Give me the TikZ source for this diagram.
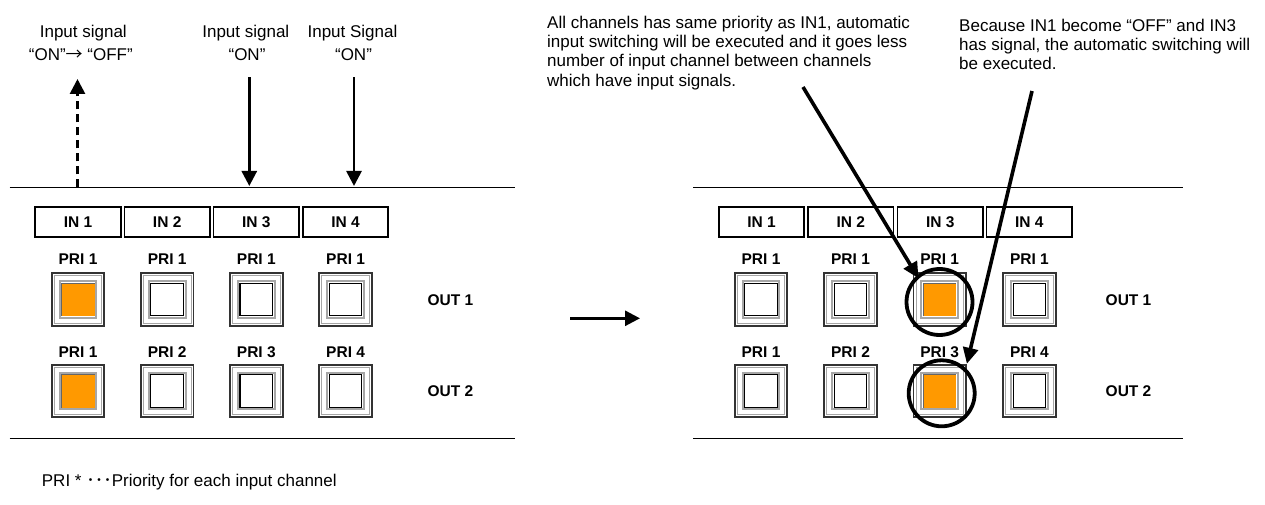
\documentclass[tikz,border=0pt]{standalone}
\usepackage{fontspec}
\setmainfont{Liberation Sans}
\newfontfamily\cjk{Noto Sans CJK JP}
\usetikzlibrary{arrows.meta,calc}
\definecolor{lit}{HTML}{FF9900}
\tikzset{
  lbl/.style={font=\fontsize{17}{19}\selectfont, inner sep=0pt},
  bl/.style={font=\bfseries\fontsize{15.5}{18}\selectfont, inner sep=0pt},
  inbox/.style={draw, line width=1.8pt, minimum width=85.5pt, minimum height=30pt, inner sep=0pt, font=\bfseries\fontsize{15.5}{18}\selectfont},
  btnbox/.style={draw=black!80, line width=1.8pt, fill=white, minimum size=52.6pt, inner sep=0pt},
  panel/.style={line width=1.3pt},
  sig/.style={line width=2.7pt, -{Triangle[length=15pt,width=15pt]}},
  ann/.style={line width=3.6pt, -{Triangle[length=16pt,width=15pt]}},
  ring/.style={draw, circle, line width=3.8pt, minimum size=66pt, inner sep=0pt},
  btnoff/.pic={
    \draw[line width=0.8pt, draw=black!35] (-23.8,-23.8) rectangle (23.8,23.8);
    \draw[line width=2pt, draw=black!35] (-18.3,-18.3) rectangle (18.3,18.3);
    \draw[line width=1.1pt, draw=black, fill=white] (-16.3,-16.3) rectangle (16.3,16.3);
  },
  btnon/.pic={
    \draw[line width=0.8pt, draw=black!35] (-23.8,-23.8) rectangle (23.8,23.8);
    \draw[line width=2pt, draw=black!35, fill=white] (-18.3,-18.3) rectangle (18.3,18.3);
    \fill[lit] (-16.6,-16.6) rectangle (16.6,16.6);
    \draw[line width=0.8pt, black!60] (-16.6,16.6) -- (-16.6,-16.6) -- (16.6,-16.6);
  }
}
\begin{document}
\begin{tikzpicture}[x=1pt,y=-1pt]
\useasboundingbox[fill=white] (0,0) rectangle (1265,505);

% ---------- left panel ----------
\draw[panel] (9.5,187.3) coordinate (LTa) -- (515,187.3) coordinate (LTb);
\draw[panel] (9.5,438.3) coordinate (LBa) -- (515,438.3) coordinate (LBb);

\foreach \i/\x in {1/78,2/167.2,3/256.3,4/345.6}{
  \node[inbox] (LIN\i) at (\x,222.3) {IN \i};
}
\foreach \i/\x/\p/\q in {1/78/1/1,2/167.2/1/2,3/256.3/1/3,4/345.6/1/4}{
  \node[bl] (LP1\i) at (\x,258.7) {PRI \p};
  \node[bl] (LP2\i) at (\x,351.7) {PRI \q};
  \node[btnbox] (LB1\i) at (\x,299.5) {};
  \node[btnbox] (LB2\i) at (\x,391) {};
}
\pic at (LB11) {btnon};
\pic at (LB21) {btnon};
\foreach \i in {2,3,4}{
  \pic at (LB1\i) {btnoff};
  \pic at (LB2\i) {btnoff};
}
\node[bl] (LO1) at (450.5,300) {OUT 1};
\node[bl] (LO2) at (450.5,391) {OUT 2};

% signal labels
\node[lbl, anchor=base] (S1a) at (83.3,37.7) {Input signal};
\node[lbl, anchor=base] (S1b) at (80.8,60.7) {“ON”{\cjk →} “OFF”};
\node[lbl, anchor=base] (S2a) at (245.8,37.7) {Input signal};
\node[lbl, anchor=base] (S2b) at (247,60.7) {“ON”};
\node[lbl, anchor=base] (S3a) at (352.5,37.7) {Input Signal};
\node[lbl, anchor=base] (S3b) at (353.5,60.7) {“ON”};

\coordinate (D1s) at (77.5,187.3);
\coordinate (D1e) at (77.5,79);
\draw[sig, dash pattern=on 8pt off 5pt] (D1s) -- (D1e);
\coordinate (D2s) at (249.3,77.3);
\coordinate (D2e) at (249.3,186);
\draw[sig] (D2s) -- (D2e);
\coordinate (D3s) at (354,77.3);
\coordinate (D3e) at (354,186);
\draw[sig] (D3s) -- (D3e);

% middle arrow
\coordinate (Ms) at (570,318.3);
\coordinate (Me) at (640,318.3);
\draw[sig] (Ms) -- (Me);

% ---------- right panel ----------
\draw[panel] (693,187.3) coordinate (RTa) -- (1183,187.3) coordinate (RTb);
\draw[panel] (693,438.3) coordinate (RBa) -- (1183,438.3) coordinate (RBb);

\foreach \i/\x in {1/761.5,2/850.8,3/940.2,4/1029.3}{
  \node[inbox] (RIN\i) at (\x,222.3) {IN \i};
}
\foreach \i/\x/\p/\q in {1/761/1/1,2/850.5/1/2,3/939.7/1/3,4/1029.4/1/4}{
  \node[bl] (RP1\i) at (\x,258.7) {PRI \p};
  \node[bl] (RP2\i) at (\x,351.7) {PRI \q};
  \node[btnbox] (RB1\i) at (\x,299.5) {};
  \node[btnbox] (RB2\i) at (\x,391) {};
}
\pic at (RB13) {btnon};
\pic at (RB23) {btnon};
\foreach \i in {1,2,4}{
  \pic at (RB1\i) {btnoff};
  \pic at (RB2\i) {btnoff};
}
\node[bl] (RO1) at (1128.5,300) {OUT 1};
\node[bl] (RO2) at (1128.5,391) {OUT 2};

\node[ring] (C1) at (939.5,302) {};
\node[ring] (C2) at (941.7,393.3) {};

% annotations
\node[lbl, anchor=base west] (A1) at (547,28.3) {All channels has same priority as IN1, automatic};
\node[lbl, anchor=base west] (A2) at (547,47.6) {input switching will be executed and it goes less};
\node[lbl, anchor=base west] (A3) at (547,66.9) {number of input channel between channels};
\node[lbl, anchor=base west] (A4) at (547,86.2) {which have input signals.};

\node[lbl, anchor=base west] (B1) at (959,31.7) {Because IN1 become “OFF” and IN3};
\node[lbl, anchor=base west] (B2) at (959,50.5) {has signal, the automatic switching will};
\node[lbl, anchor=base west] (B3) at (959,69.3) {be executed.};

\coordinate (X1s) at (803,87);
\coordinate (X2s) at (1032,91);
\draw[ann] (X1s) -- ($(RB13.north west)!0.22!(RB13.center)$);
\draw[ann] (X2s) -- (RB23.north east);

% footnote
\node[lbl, anchor=base west] (F) at (41.7,486) {PRI * {\cjk ･･･}Priority for each input channel};
\end{tikzpicture}
\end{document}
